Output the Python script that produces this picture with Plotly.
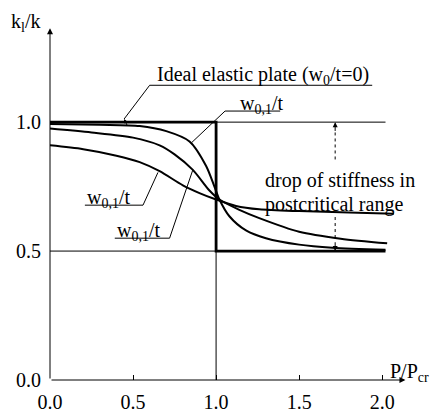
import plotly.graph_objects as go

# ---- data ----
x_ideal = [0.0, 1.0, 1.0, 2.02]
k_ideal = [1.0, 1.0, 0.5, 0.5]

x_small = [0.0, 0.3, 0.54, 0.7, 0.84, 0.94, 0.99, 1.02, 1.08, 1.18, 1.3, 1.5, 1.7, 2.02]
k_small = [0.993, 0.99, 0.985, 0.965, 0.925, 0.83, 0.75, 0.70, 0.635, 0.58, 0.55, 0.525, 0.513, 0.505]

x_mid = [0.0, 0.25, 0.5, 0.66, 0.75, 0.86, 0.96, 1.02, 1.14, 1.26, 1.5, 1.75, 2.03]
k_mid = [0.975, 0.96, 0.94, 0.91, 0.875, 0.815, 0.735, 0.70, 0.66, 0.628, 0.575, 0.548, 0.53]

x_large = [0.0, 0.2, 0.4, 0.54, 0.66, 0.8, 0.9, 1.0, 1.12, 1.26, 1.5, 1.8, 2.07]
k_large = [0.91, 0.895, 0.87, 0.845, 0.81, 0.755, 0.725, 0.70, 0.675, 0.662, 0.655, 0.65, 0.645]

x_ticks = [0.0, 0.5, 1.0, 1.5, 2.0]
x_tick_labels = ["0.0", "0.5", "1.0", "1.5", "2.0"]
y_ticks = [0.0, 0.5, 1.0]
y_tick_labels = ["0.0", "0.5", "1.0"]

FONT = "Liberation Serif"
FS = 20

fig = go.Figure()

def add_line(x, y, w, shape="linear"):
    fig.add_trace(go.Scatter(x=x, y=y, mode="lines",
                             line=dict(color="black", width=w, shape=shape, smoothing=0.8),
                             hoverinfo="skip", showlegend=False))

# thin reference lines
add_line([1.0, 2.02], [1.0, 1.0], 1)
add_line([0.0, 1.0], [0.5, 0.5], 1)
add_line([1.0, 1.0], [0.0, 0.5], 1)

# curves
add_line(x_large, k_large, 2, "spline")
add_line(x_mid, k_mid, 2, "spline")
add_line(x_small, k_small, 2, "spline")
add_line(x_ideal, k_ideal, 2.8)

shapes = []
def seg(pts, dash="solid", w=1):
    path = "M " + " L ".join(f"{a},{b}" for a, b in pts)
    shapes.append(dict(type="path", path=path, xref="x", yref="y",
                       line=dict(color="black", width=w, dash=dash)))

# leader lines (underline + pointer)
seg([(1.94, 1.143), (0.60, 1.143), (0.446, 1.012)])
seg([(1.386, 1.043), (1.054, 1.043), (0.855, 0.922)])
seg([(0.21, 0.678), (0.56, 0.678), (0.65, 0.805)])
seg([(0.39, 0.55), (0.72, 0.55), (0.86, 0.815)])
# dotted drop indicator
seg([(1.717, 0.96), (1.717, 0.853)], dash="dot")
seg([(1.717, 0.632), (1.717, 0.54)], dash="dot")

annotations = []
def arrow(x, y, ax, ay, w=1, size=1.0):
    annotations.append(dict(x=x, y=y, ax=ax, ay=ay, xref="x", yref="y",
                            axref="x", ayref="y", text="", showarrow=True,
                            arrowhead=2, arrowsize=size, arrowwidth=w,
                            arrowcolor="black", standoff=0))

def label(x, y, text, xanchor="left"):
    annotations.append(dict(x=x, y=y, xref="x", yref="y", text=text,
                            showarrow=False, xanchor=xanchor, yanchor="middle",
                            font=dict(family=FONT, size=FS, color="black")))

# axes with arrowheads
arrow(0, 1.364, 0, 0, 1, 1.2)
arrow(2.14, 0, 0, 0, 1, 1.2)
# drop arrowheads
arrow(1.717, 1.0, 1.717, 0.96, 1, 1.0)
arrow(1.717, 0.5, 1.717, 0.54, 1, 1.0)
# pointer tip on ideal line
arrow(0.446, 1.012, 0.47, 0.98, 1, 0.8)

label(0.633, 1.18, "Ideal elastic plate (w<sub>0</sub>/t=0)")
label(1.133, 1.07, "w<sub>0,1</sub>/t")
label(0.21, 0.705, "w<sub>0,1</sub>/t")
label(0.39, 0.577, "w<sub>0,1</sub>/t")
label(1.283, 0.775, "drop of stiffness in")
label(1.283, 0.68, "postcritical range")
label(2.035, 0.03, "P/P<sub>cr</sub>")
annotations.append(dict(x=-0.02, y=1.385, xref="paper", yref="y", text="k<sub>l</sub>/k",
                        showarrow=False, xanchor="right", yanchor="middle",
                        font=dict(family=FONT, size=FS, color="black")))

fig.update_layout(
    width=434, height=418,
    margin=dict(l=50, r=2, t=19, b=38),
    paper_bgcolor="white", plot_bgcolor="white",
    shapes=shapes, annotations=annotations,
    xaxis=dict(range=[0, 2.3], tickvals=x_ticks, ticktext=x_tick_labels,
               showgrid=False, zeroline=False, showline=False,
               ticks="inside", ticklen=5, tickcolor="black", tickwidth=1,
               ticklabelstandoff=8,
               tickfont=dict(family=FONT, size=FS, color="black")),
    yaxis=dict(range=[0, 1.4], tickvals=y_ticks, ticktext=y_tick_labels,
               showgrid=False, zeroline=False, showline=False, ticks="",
               ticklabelstandoff=8,
               tickfont=dict(family=FONT, size=FS, color="black")),
)

fig.write_html("out.html")
